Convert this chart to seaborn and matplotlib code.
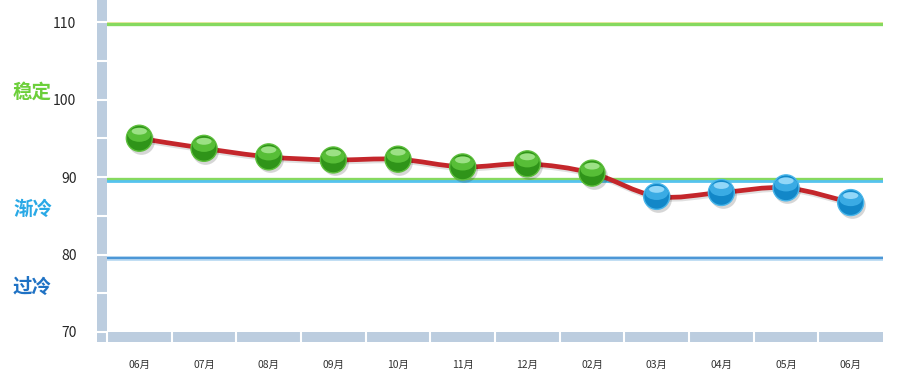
import numpy as np
import pandas as pd
import matplotlib
matplotlib.use("Agg")
import matplotlib.pyplot as plt
import matplotlib.transforms as mtransforms
from matplotlib.path import Path
from matplotlib.patches import PathPatch, Rectangle
from matplotlib.markers import MarkerStyle
import seaborn as sns

# ---- data ----
months = ["06月", "07月", "08月", "09月", "10月", "11月", "12月", "02月", "03月", "04月", "05月", "06月"]
values = [95.0, 93.7, 92.6, 92.2, 92.3, 91.3, 91.7, 90.5, 87.5, 88.0, 88.6, 86.7]
yticks = [70, 80, 90, 100, 110]
thresholds_green = [109.7, 89.8]
threshold_lightblue = [89.5]
threshold_blue = [79.5]
zone_labels = ["稳定", "渐冷", "过冷"]
zone_colors = ["#6ccf3a", "#29a9e6", "#1f72c4"]
zone_y_px = [92, 209, 287]

sns.set_style("white")
plt.rcParams["font.family"] = ["Noto Sans CJK SC", "DejaVu Sans"]

W, H = 904, 385
fig = plt.figure(figsize=(W / 100, H / 100), dpi=100)
left_px, right_px, top_px, bottom_px = 107, 883, 0, 332
ax = fig.add_axes([left_px / W, 1 - bottom_px / H, (right_px - left_px) / W, (bottom_px - top_px) / H])

x = np.arange(len(values))
df = pd.DataFrame({"idx": x, "val": values,
                   "state": ["ok" if v >= 90 else "cold" for v in values]})

ax.set_xlim(-0.5, len(values) - 0.5)
ax.set_ylim(70, 112.84)

# threshold lines
for i, t in enumerate(thresholds_green):
    if i == 0:
        ax.axhline(t + 0.14, color="#f3e59a", lw=1.2, zorder=1)
    ax.axhline(t, color="#86d95f", lw=2.4, zorder=1.1)
for t in threshold_lightblue:
    ax.axhline(t, color="#55c3ee", lw=2.0, zorder=1.2)
for t in threshold_blue:
    ax.axhline(t, color="#b9d9f2", lw=3.4, zorder=1)
    ax.axhline(t, color="#4c97d6", lw=1.6, zorder=1.1)

# smooth red line (Catmull-Rom -> cubic Bezier path)
P = np.column_stack([x, values]).astype(float)
n = len(P)
verts = [P[0]]
codes = [Path.MOVETO]
for i in range(n - 1):
    p0 = P[i - 1] if i > 0 else P[i]
    p1 = P[i]
    p2 = P[i + 1]
    p3 = P[i + 2] if i + 2 < n else P[i + 1]
    c1 = p1 + (p2 - p0) / 6.0
    c2 = p2 - (p3 - p1) / 6.0
    verts += [c1, c2, p2]
    codes += [Path.CURVE4] * 3
path = Path(verts, codes)
sh_tr = mtransforms.offset_copy(ax.transData, fig=fig, x=1, y=-2, units="dots")
ax.add_patch(PathPatch(path, facecolor="none", edgecolor="#000000", alpha=0.12, lw=3.4,
                       zorder=2.9, transform=sh_tr))
ax.add_patch(PathPatch(path, facecolor="none", edgecolor="#c4262b", lw=3.4, zorder=3,
                       capstyle="round", joinstyle="round"))

# markers (glossy balls)
shadow_tr = mtransforms.offset_copy(ax.transData, fig=fig, x=1.5, y=-2.5, units="dots")
ax.scatter(x, values, s=370, color="#000000", alpha=0.16, transform=shadow_tr, zorder=4, linewidths=0)
edge = ["#5dbf3c" if v >= 90 else "#49b6ea" for v in values]
sns.scatterplot(data=df, x="idx", y="val", hue="state",
                palette={"ok": "#2f9419", "cold": "#1287c8"},
                s=350, edgecolor=edge, linewidth=1.0, legend=False, zorder=5, ax=ax)
ellipse = Path(Path.unit_circle().vertices * np.array([1.0, 0.62]), Path.unit_circle().codes)
hi_tr = mtransforms.offset_copy(ax.transData, fig=fig, x=0, y=3.5, units="dots")
hi_colors = ["#5cc33b" if v >= 90 else "#3fb0e8" for v in values]
ax.scatter(x, values, s=270, marker=MarkerStyle(ellipse), c=hi_colors, alpha=0.9,
           transform=hi_tr, zorder=6, linewidths=0)
hi_tr2 = mtransforms.offset_copy(ax.transData, fig=fig, x=0, y=7, units="dots")
hi2_colors = ["#b4eea0" if v >= 90 else "#b0e6ff" for v in values]
ellipse2 = Path(Path.unit_circle().vertices * np.array([1.0, 0.45]), Path.unit_circle().codes)
ax.scatter(x, values, s=120, marker=MarkerStyle(ellipse2), c=hi2_colors, alpha=0.75,
           transform=hi_tr2, zorder=7, linewidths=0)

# axes styling
for s in ["top", "right", "bottom", "left"]:
    ax.spines[s].set_visible(False)
ax.set_xlabel("")
ax.set_ylabel("")
ax.set_xticks(x)
ax.set_xticklabels(months, fontsize=7.5, color="#333333")
ax.tick_params(axis="x", length=0, pad=20)
ax.set_yticks(yticks)
ax.set_yticklabels([str(t) for t in yticks], fontsize=6.2, color="#333333",
                   family=["Liberation Sans", "DejaVu Sans"])
ax.spines["left"].set_position(("outward", 10))
ax.tick_params(axis="y", length=7, width=1.5, color="#cbd8e6", pad=5)
ax.grid(False)

band = "#bccddf"
ax_w = right_px - left_px
ax_h = bottom_px - top_px
# vertical band
vtr = mtransforms.blended_transform_factory(ax.transAxes, ax.transData)
ax.add_patch(Rectangle((-10 / ax_w, 70), 10 / ax_w, 50, transform=vtr, color=band,
                       clip_on=False, zorder=0.5, lw=0))
for yv in np.arange(75, 115, 5):
    ax.plot([-10 / ax_w, 0], [yv, yv], transform=vtr, color="white", lw=1.5,
            clip_on=False, zorder=0.6, solid_capstyle="butt")
# horizontal band
htr = mtransforms.blended_transform_factory(ax.transData, ax.transAxes)
ax.add_patch(Rectangle((-0.5, -10 / ax_h), len(values), 10 / ax_h, transform=htr, color=band,
                       clip_on=False, zorder=0.5, lw=0))
ax.add_patch(Rectangle((-10 / ax_w, -10 / ax_h), 10 / ax_w, 10 / ax_h, transform=ax.transAxes,
                       color=band, clip_on=False, zorder=0.5, lw=0))
for xv in np.arange(-0.5, len(values) - 0.5, 1.0):
    ax.plot([xv, xv], [-10 / ax_h, 0], transform=htr, color="white", lw=1.5,
            clip_on=False, zorder=0.6, solid_capstyle="butt")
ax.plot([-10 / ax_w, 0], [0, 0], transform=ax.transAxes, color="white", lw=1.5,
        clip_on=False, zorder=0.6, solid_capstyle="butt")

# zone labels
for lab, col, ypx in zip(zone_labels, zone_colors, zone_y_px):
    fig.text(13 / W, 1 - ypx / H, lab, color=col, fontsize=14, fontweight="bold",
             ha="left", va="center")

fig.savefig("out.png", dpi=100)
